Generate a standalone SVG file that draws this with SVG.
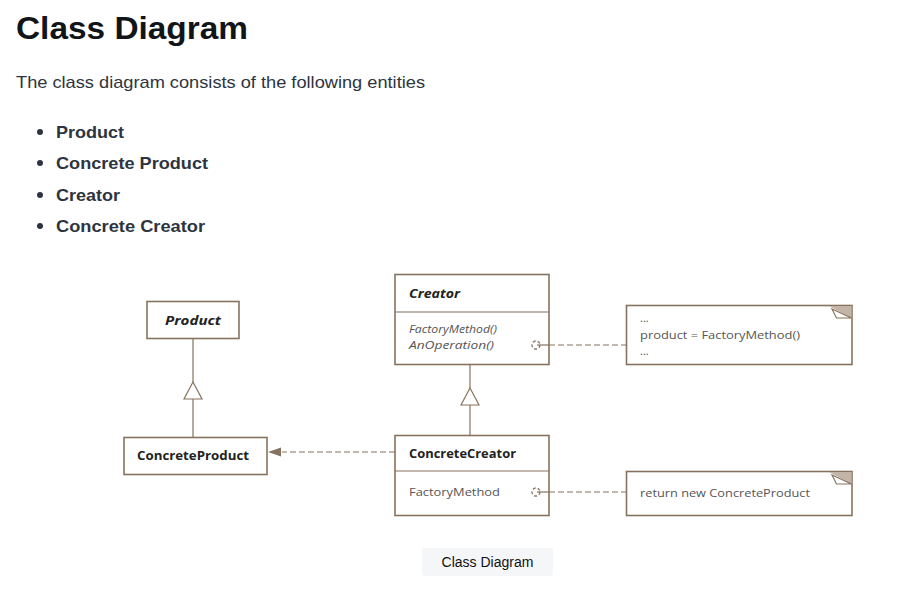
<svg xmlns="http://www.w3.org/2000/svg" width="899" height="589" viewBox="0 0 899 589">
<style>
.h{font-family:"Liberation Sans",Arial,sans-serif;fill:#111418;font-weight:bold}
.p{font-family:"Liberation Sans",Arial,sans-serif;fill:#2d3440}
.box{fill:#fff;stroke:#86735f;stroke-width:1.6}
.ln{fill:none;stroke:#86735f;stroke-width:1.2}
.dash{fill:none;stroke:#86735f;stroke-width:1.2;stroke-dasharray:6 3}
.t{font-family:"Open Sans","Noto Sans",sans-serif;fill:#222}
.m{font-family:"Open Sans","Noto Sans",sans-serif;fill:#555;font-size:11px}
.fold{fill:#c2b5a8;stroke:none}
.foldw{fill:#fff;stroke:#86735f;stroke-width:1.2}
.cir{fill:none;stroke:#86735f;stroke-width:1.3;stroke-dasharray:3 2}
</style>
<rect width="899" height="589" fill="#fff"/>
<text class="h" x="16" y="39" font-size="31" textLength="232" lengthAdjust="spacingAndGlyphs">Class Diagram</text>
<text class="p" x="16" y="88" font-size="17" textLength="409" lengthAdjust="spacingAndGlyphs">The class diagram consists of the following entities</text>
<g class="p" font-size="17" font-weight="bold">
<circle cx="40" cy="132" r="3" fill="#2d3440"/>
<text x="56" y="138" textLength="68" lengthAdjust="spacingAndGlyphs">Product</text>
<circle cx="40" cy="163" r="3" fill="#2d3440"/>
<text x="56" y="169" textLength="152" lengthAdjust="spacingAndGlyphs">Concrete Product</text>
<circle cx="40" cy="195" r="3" fill="#2d3440"/>
<text x="56" y="201" textLength="64" lengthAdjust="spacingAndGlyphs">Creator</text>
<circle cx="40" cy="226" r="3" fill="#2d3440"/>
<text x="56" y="232" textLength="149" lengthAdjust="spacingAndGlyphs">Concrete Creator</text>
</g>

<g id="product">
<rect class="box" x="147" y="301.5" width="92" height="37"/>
<text class="t" x="165" y="325" font-size="12.5" font-weight="bold" font-style="italic" textLength="56" lengthAdjust="spacingAndGlyphs">Product</text>
</g>
<g id="creator">
<rect class="box" x="395" y="274.5" width="154" height="90"/>
<line class="ln" x1="395" y1="312" x2="549" y2="312"/>
<text class="t" x="409" y="298" font-size="12" font-weight="bold" font-style="italic" textLength="51" lengthAdjust="spacingAndGlyphs">Creator</text>
<text class="m" x="409" y="333" font-style="italic" textLength="88" lengthAdjust="spacingAndGlyphs">FactoryMethod()</text>
<text class="m" x="409" y="349" font-style="italic" textLength="85" lengthAdjust="spacingAndGlyphs">AnOperation()</text>
</g>
<g id="concreteproduct">
<rect class="box" x="124" y="437.5" width="143" height="37"/>
<text class="t" x="137" y="460" font-size="12" font-weight="bold" textLength="112" lengthAdjust="spacingAndGlyphs">ConcreteProduct</text>
</g>
<g id="concretecreator">
<rect class="box" x="395" y="435.5" width="154" height="80"/>
<line class="ln" x1="395" y1="471" x2="549" y2="471"/>
<text class="t" x="409" y="458" font-size="12" font-weight="bold" textLength="107" lengthAdjust="spacingAndGlyphs">ConcreteCreator</text>
<text class="m" x="409" y="496" textLength="91" lengthAdjust="spacingAndGlyphs">FactoryMethod</text>
</g>
<g id="note1">
<rect class="box" x="626.5" y="305.5" width="225.5" height="59"/>
<path class="fold" d="M829,306 H851.5 V318 Z"/>
<path class="foldw" d="M832,309 L836.5,318 L851.5,318 Z"/>
<text class="m" x="640" y="322" fill="#333">...</text>
<text class="m" x="640" y="339" textLength="160" lengthAdjust="spacingAndGlyphs">product = FactoryMethod()</text>
<text class="m" x="640" y="355">...</text>
</g>
<g id="note2">
<rect class="box" x="626.5" y="471.5" width="225.5" height="44"/>
<path class="fold" d="M829,472 H851.5 V484 Z"/>
<path class="foldw" d="M832,475 L836.5,484 L851.5,484 Z"/>
<text class="m" x="640" y="497" textLength="170" lengthAdjust="spacingAndGlyphs">return new ConcreteProduct</text>
</g>

<g id="connectors">
<line class="ln" x1="193" y1="338" x2="193" y2="382"/>
<path class="ln" d="M193,382 L184,399 L202,399 Z"/>
<line class="ln" x1="193" y1="399" x2="193" y2="437"/>
<line class="ln" x1="470" y1="365" x2="470" y2="388"/>
<path class="ln" d="M470,388 L461,405 L479,405 Z"/>
<line class="ln" x1="470" y1="405" x2="470" y2="435"/>
<line class="dash" x1="395" y1="452" x2="282" y2="452"/>
<path d="M268,452 L281,447.5 L281,456.5 Z" fill="#86735f"/>
<line class="ln" x1="537" y1="345" x2="549" y2="345"/>
<line class="dash" x1="549" y1="345" x2="626" y2="345"/>
<line class="ln" x1="537" y1="492" x2="549" y2="492"/>
<line class="dash" x1="549" y1="492" x2="626" y2="492"/>
<circle class="cir" cx="536" cy="345" r="4"/>
<circle class="cir" cx="536" cy="492" r="4"/>
</g>

<rect x="422" y="548" width="131" height="28" rx="3" fill="#f5f6f8"/>
<text x="487.5" y="567" font-family="Liberation Sans,Arial,sans-serif" font-size="14" fill="#111" text-anchor="middle">Class Diagram</text>
</svg>
